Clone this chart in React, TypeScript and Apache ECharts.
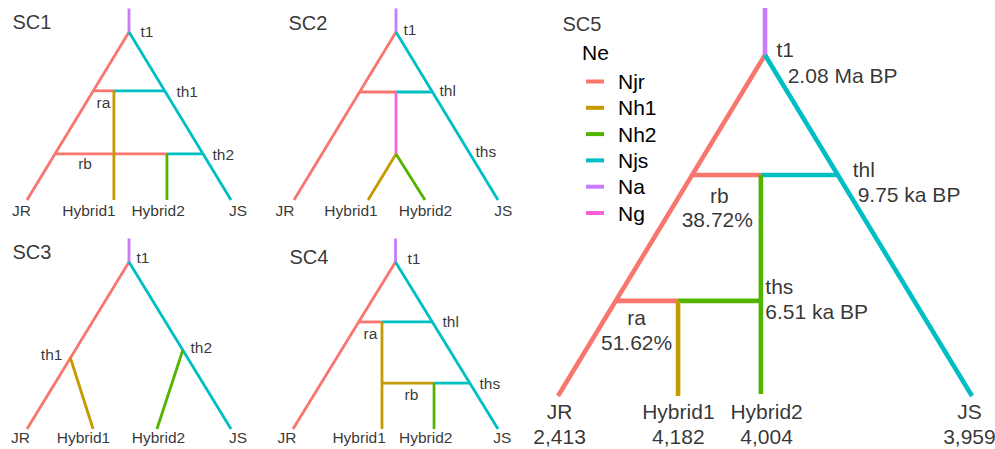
import React, { useEffect, useRef } from "react";
import * as echarts from "echarts";

// Populations (legend "Ne") and their colours
const POPS = ["Njr", "Nh1", "Nh2", "Njs", "Na", "Ng"];
const POP_COLORS = ["#F8766D", "#C49A00", "#53B400", "#00BFC4", "#C77CFF", "#FB61D7"];

// Tree branches: [population, x1, y1, x2, y2] in tree units
// x: 0 = JR tip, 100 = JS tip ; y: 0 = present (tips), 100 = t1 root
const SC1_SEGMENTS: [string, number, number, number, number][] = [
  ["Na", 50, 100, 50, 114],
  ["Njr", 50, 100, 0, 0],
  ["Njs", 50, 100, 100, 0],
  ["Njr", 32.4, 65, 42.6, 65],
  ["Njs", 42.6, 65, 67.6, 65],
  ["Njr", 13.7, 27.4, 68.6, 27.4],
  ["Njs", 68.6, 27.4, 86.3, 27.4],
  ["Nh1", 42.6, 65, 42.6, 0],
  ["Nh2", 68.6, 27.4, 68.6, 0],
];
const SC2_SEGMENTS: [string, number, number, number, number][] = [
  ["Na", 50, 100, 50, 114],
  ["Njr", 50, 100, 0, 0],
  ["Njs", 50, 100, 100, 0],
  ["Njr", 32.1, 64.3, 50, 64.3],
  ["Njs", 50, 64.3, 67.9, 64.3],
  ["Ng", 50, 64.3, 50, 27.4],
  ["Nh1", 50, 27.4, 36.3, 0],
  ["Nh2", 50, 27.4, 64.2, 0],
];
const SC3_SEGMENTS: [string, number, number, number, number][] = [
  ["Na", 50, 100, 50, 114],
  ["Njr", 50, 100, 0, 0],
  ["Njs", 50, 100, 100, 0],
  ["Nh1", 21.3, 42.5, 32.4, 0],
  ["Nh2", 76.4, 47.3, 63.7, 0],
];
const SC4_SEGMENTS: [string, number, number, number, number][] = [
  ["Na", 50, 100, 50, 114],
  ["Njr", 50, 100, 0, 0],
  ["Njs", 50, 100, 100, 0],
  ["Njr", 32, 64.1, 43.4, 64.1],
  ["Njs", 43.4, 64.1, 68, 64.1],
  ["Nh1", 43.4, 64.1, 43.4, 0],
  ["Nh1", 43.4, 27.5, 68.8, 27.5],
  ["Njs", 68.8, 27.5, 86.3, 27.5],
  ["Nh2", 68.8, 27.5, 68.8, 0],
];
const SC5_SEGMENTS: [string, number, number, number, number][] = [
  ["Na", 50, 100, 50, 113.8],
  ["Njr", 50, 100, 0, 0],
  ["Njs", 50, 100, 100, 0],
  ["Njr", 32.4, 64.8, 49, 64.8],
  ["Njs", 49, 64.8, 67.6, 64.8],
  ["Njr", 13.9, 27.9, 29, 27.9],
  ["Nh2", 29, 27.9, 49, 27.9],
  ["Nh2", 49, 64.8, 49, 0.6],
  ["Nh1", 29, 27.9, 29, 0],
];

// SC5 estimates
const SC5_TIPS = ["JR", "Hybrid1", "Hybrid2", "JS"];
const SC5_NE = [2413, 4182, 4004, 3959];
const SC5_TIMES = ["2.08 Ma BP", "9.75 ka BP", "6.51 ka BP"];
const SC5_ADMIX = ["38.72%", "51.62%"];

// Labels: [text, x, y, align]
type Lab = [string, number, number, string];
const SC1_LABELS: Lab[] = [
  ["t1", 55.9, 100, "left"],
  ["th1", 73.5, 64.3, "left"],
  ["ra", 37.7, 57.7, "center"],
  ["th2", 91.2, 26.8, "left"],
  ["rb", 28.7, 21.4, "center"],
  ["JR", -2.5, -6.5, "center"],
  ["Hybrid1", 30.6, -6.5, "center"],
  ["Hybrid2", 64.5, -6.5, "center"],
  ["JS", 103.7, -6.5, "center"],
];
const SC2_LABELS: Lab[] = [
  ["t1", 53.9, 101, "left"],
  ["thl", 71.6, 64.9, "left"],
  ["ths", 89.2, 28.6, "left"],
  ["JR", -4.2, -6.5, "center"],
  ["Hybrid1", 28.2, -6.5, "center"],
  ["Hybrid2", 64.7, -6.5, "center"],
  ["JS", 102.9, -6.5, "center"],
];
const SC3_LABELS: Lab[] = [
  ["t1", 53.9, 102.2, "left"],
  ["th1", 17.6, 44.3, "right"],
  ["th2", 80.4, 48.5, "left"],
  ["JR", -2.9, -5.6, "center"],
  ["Hybrid1", 27.9, -5.6, "center"],
  ["Hybrid2", 64.7, -5.6, "center"],
  ["JS", 103.7, -5.6, "center"],
];
const SC4_LABELS: Lab[] = [
  ["t1", 56.1, 101.8, "left"],
  ["thl", 73.2, 64.1, "left"],
  ["ra", 38.0, 56.9, "center"],
  ["ths", 91.2, 26.9, "left"],
  ["rb", 58.0, 20.4, "center"],
  ["JR", -2.7, -5.4, "center"],
  ["Hybrid1", 32.5, -5.4, "center"],
  ["Hybrid2", 65.0, -5.4, "center"],
  ["JS", 102.4, -5.4, "center"],
];
const SC5_TIP_X = [0.5, 29.2, 50.5, 99.5];
const SC5_LABELS: Lab[] = [
  ["t1", 52.9, 101.5, "left"],
  [SC5_TIMES[0], 55.6, 93.8, "left"],
  ["thl", 71.3, 66.3, "left"],
  [SC5_TIMES[1], 72.5, 58.9, "left"],
  ["rb", 39.1, 58.7, "center"],
  [SC5_ADMIX[0], 38.6, 51.6, "center"],
  ["ths", 50.2, 32.0, "left"],
  [SC5_TIMES[2], 50.2, 24.6, "left"],
  ["ra", 19.1, 22.9, "center"],
  [SC5_ADMIX[1], 19.1, 15.5, "center"],
  ...SC5_TIPS.map((t, i) => [t, SC5_TIP_X[i], -4.7, "center"] as Lab),
  ...SC5_NE.map((n, i) => [n.toLocaleString("en-US"), SC5_TIP_X[i], -12.0, "center"] as Lab),
];

const TITLES: Lab[] = [
  ["SC1", -6.9, 105.7, "left"],
  ["SC2", -2.5, 104.8, "left"],
  ["SC3", -6.9, 105.4, "left"],
  ["SC4", -1.5, 102.4, "left"],
  ["SC5", 1.2, 108.8, "left"],
];

const FONT = "'Liberation Sans', Arial, Helvetica, sans-serif";

const PANELS = [
  { seg: SC1_SEGMENTS, lab: SC1_LABELS, grid: { left: 27, top: 32, width: 204, height: 168 }, lw: 2.8, fs: 15.5 },
  { seg: SC2_SEGMENTS, lab: SC2_LABELS, grid: { left: 294, top: 32, width: 204, height: 168 }, lw: 2.8, fs: 15.5 },
  { seg: SC3_SEGMENTS, lab: SC3_LABELS, grid: { left: 27, top: 262, width: 204, height: 167 }, lw: 2.8, fs: 15.5 },
  { seg: SC4_SEGMENTS, lab: SC4_LABELS, grid: { left: 293, top: 262, width: 205, height: 167 }, lw: 2.8, fs: 15.5 },
  { seg: SC5_SEGMENTS, lab: SC5_LABELS, grid: { left: 558, top: 55, width: 414, height: 341 }, lw: 4.6, fs: 21 },
];

function colorOf(pop: string) {
  return POP_COLORS[POPS.indexOf(pop)];
}

export default function App() {
  const ref = useRef<HTMLDivElement>(null);
  useEffect(() => {
    if (!ref.current) return;
    const chart = echarts.init(ref.current, null, { renderer: "svg" });
    const series: any[] = [];
    PANELS.forEach((p, i) => {
      p.seg.forEach(([pop, x1, y1, x2, y2]) => {
        const c = colorOf(pop);
        series.push({
          type: "line",
          name: pop,
          xAxisIndex: i,
          yAxisIndex: i,
          data: [
            [x1, y1],
            [x2, y2],
          ],
          symbol: "none",
          showSymbol: false,
          clip: false,
          silent: true,
          color: c,
          itemStyle: { color: c },
          lineStyle: { color: c, width: p.lw, cap: "butt" },
          z: 2,
        });
      });
      const labs = [...p.lab.map((l) => ({ l, fs: p.fs })), { l: TITLES[i], fs: 20 }];
      series.push({
        type: "scatter",
        name: "labels" + i,
        xAxisIndex: i,
        yAxisIndex: i,
        symbolSize: 1,
        clip: false,
        silent: true,
        itemStyle: { color: "rgba(0,0,0,0)" },
        z: 5,
        data: labs.map(({ l, fs }) => ({
          value: [l[1], l[2]],
          label: {
            show: true,
            formatter: l[0],
            position: [0, 0],
            align: l[3],
            verticalAlign: "middle",
            fontSize: fs,
            fontFamily: FONT,
            color: "#000",
          },
        })),
      });
    });
    chart.setOption({
      animation: false,
      grid: PANELS.map((p) => ({ ...p.grid, containLabel: false })),
      xAxis: PANELS.map((_, i) => ({ type: "value", gridIndex: i, min: 0, max: 100, show: false })),
      yAxis: PANELS.map((_, i) => ({ type: "value", gridIndex: i, min: 0, max: 100, show: false })),
      legend: {
        data: POPS,
        orient: "vertical",
        left: 581,
        top: 66,
        itemWidth: 18,
        itemHeight: 4,
        itemGap: 5.3,
        icon: "rect",
        selectedMode: false,
        textStyle: { fontSize: 21, lineHeight: 21, fontFamily: FONT, color: "#000", padding: [0, 0, 0, 9] },
      },
      graphic: [
        {
          type: "text",
          left: 582,
          top: 42,
          style: { text: "Ne", fontSize: 21, fontFamily: FONT, fill: "#000" },
        },
      ],
      series,
    });
    return () => chart.dispose();
  }, []);
  return (
    <div
      ref={ref}
      style={{ position: "fixed", left: 0, top: 0, width: 995, height: 449, background: "#fff" }}
    />
  );
}
